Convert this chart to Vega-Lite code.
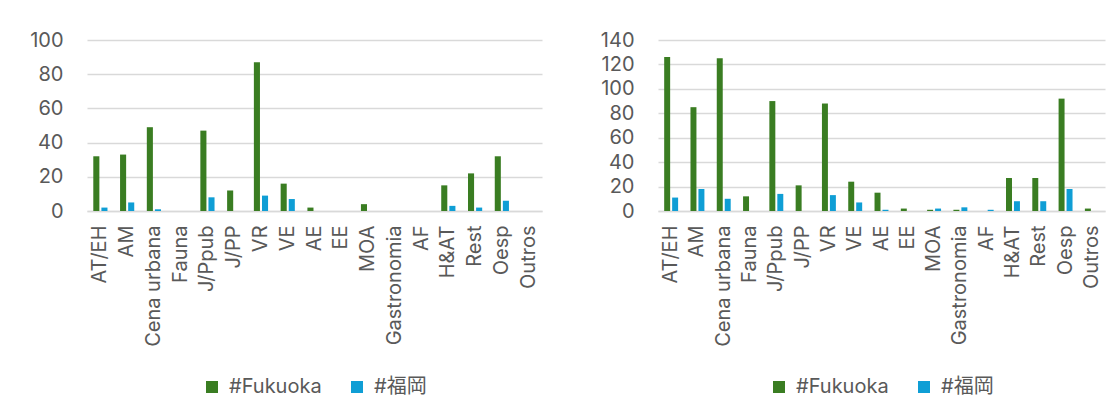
{
  "$schema": "https://vega.github.io/schema/vega-lite/v6.json",
  "padding": {"left": 29, "top": 30, "right": 5, "bottom": 5},
  "background": "#ffffff",
  "spacing": 58,
  "config": {
    "font": "Inter, 'Noto Sans CJK JP'",
    "view": {"stroke": null},
    "axis": {
      "labelFont": "Inter, 'Noto Sans CJK JP'",
      "labelColor": "#595959",
      "labelFontSize": 20,
      "gridColor": "#D9D9D9",
      "gridWidth": 1.3,
      "domainColor": "#D9D9D9",
      "domainWidth": 1.3,
      "ticks": false,
      "title": null
    },
    "legend": {
      "labelFont": "Inter, 'Noto Sans CJK JP'",
      "labelColor": "#595959",
      "labelFontSize": 20,
      "symbolType": "square",
      "symbolSize": 144,
      "symbolStrokeWidth": 0,
      "columnPadding": 25,
      "labelOffset": 7,
      "offset": 30,
      "layout": {"bottom": {"anchor": "middle"}}
    }
  },
  "datasets": {
    "left": [
      {"cat": "AT/EH", "series": "#Fukuoka", "value": 32},
      {"cat": "AT/EH", "series": "#福岡", "value": 2},
      {"cat": "AM", "series": "#Fukuoka", "value": 33},
      {"cat": "AM", "series": "#福岡", "value": 5},
      {"cat": "Cena urbana", "series": "#Fukuoka", "value": 49},
      {"cat": "Cena urbana", "series": "#福岡", "value": 1},
      {"cat": "Fauna", "series": "#Fukuoka", "value": 0},
      {"cat": "Fauna", "series": "#福岡", "value": 0},
      {"cat": "J/Ppub", "series": "#Fukuoka", "value": 47},
      {"cat": "J/Ppub", "series": "#福岡", "value": 8},
      {"cat": "J/PP", "series": "#Fukuoka", "value": 12},
      {"cat": "J/PP", "series": "#福岡", "value": 0},
      {"cat": "VR", "series": "#Fukuoka", "value": 87},
      {"cat": "VR", "series": "#福岡", "value": 9},
      {"cat": "VE", "series": "#Fukuoka", "value": 16},
      {"cat": "VE", "series": "#福岡", "value": 7},
      {"cat": "AE", "series": "#Fukuoka", "value": 2},
      {"cat": "AE", "series": "#福岡", "value": 0},
      {"cat": "EE", "series": "#Fukuoka", "value": 0},
      {"cat": "EE", "series": "#福岡", "value": 0},
      {"cat": "MOA", "series": "#Fukuoka", "value": 4},
      {"cat": "MOA", "series": "#福岡", "value": 0},
      {"cat": "Gastronomia", "series": "#Fukuoka", "value": 0},
      {"cat": "Gastronomia", "series": "#福岡", "value": 0},
      {"cat": "AF", "series": "#Fukuoka", "value": 0},
      {"cat": "AF", "series": "#福岡", "value": 0},
      {"cat": "H&AT", "series": "#Fukuoka", "value": 15},
      {"cat": "H&AT", "series": "#福岡", "value": 3},
      {"cat": "Rest", "series": "#Fukuoka", "value": 22},
      {"cat": "Rest", "series": "#福岡", "value": 2},
      {"cat": "Oesp", "series": "#Fukuoka", "value": 32},
      {"cat": "Oesp", "series": "#福岡", "value": 6},
      {"cat": "Outros", "series": "#Fukuoka", "value": 0},
      {"cat": "Outros", "series": "#福岡", "value": 0}
    ],
    "right": [
      {"cat": "AT/EH", "series": "#Fukuoka", "value": 126},
      {"cat": "AT/EH", "series": "#福岡", "value": 11},
      {"cat": "AM", "series": "#Fukuoka", "value": 85},
      {"cat": "AM", "series": "#福岡", "value": 18},
      {"cat": "Cena urbana", "series": "#Fukuoka", "value": 125},
      {"cat": "Cena urbana", "series": "#福岡", "value": 10},
      {"cat": "Fauna", "series": "#Fukuoka", "value": 12},
      {"cat": "Fauna", "series": "#福岡", "value": 0},
      {"cat": "J/Ppub", "series": "#Fukuoka", "value": 90},
      {"cat": "J/Ppub", "series": "#福岡", "value": 14},
      {"cat": "J/PP", "series": "#Fukuoka", "value": 21},
      {"cat": "J/PP", "series": "#福岡", "value": 0},
      {"cat": "VR", "series": "#Fukuoka", "value": 88},
      {"cat": "VR", "series": "#福岡", "value": 13},
      {"cat": "VE", "series": "#Fukuoka", "value": 24},
      {"cat": "VE", "series": "#福岡", "value": 7},
      {"cat": "AE", "series": "#Fukuoka", "value": 15},
      {"cat": "AE", "series": "#福岡", "value": 1},
      {"cat": "EE", "series": "#Fukuoka", "value": 2},
      {"cat": "EE", "series": "#福岡", "value": 0},
      {"cat": "MOA", "series": "#Fukuoka", "value": 1},
      {"cat": "MOA", "series": "#福岡", "value": 2},
      {"cat": "Gastronomia", "series": "#Fukuoka", "value": 1},
      {"cat": "Gastronomia", "series": "#福岡", "value": 3},
      {"cat": "AF", "series": "#Fukuoka", "value": 0},
      {"cat": "AF", "series": "#福岡", "value": 1},
      {"cat": "H&AT", "series": "#Fukuoka", "value": 27},
      {"cat": "H&AT", "series": "#福岡", "value": 8},
      {"cat": "Rest", "series": "#Fukuoka", "value": 27},
      {"cat": "Rest", "series": "#福岡", "value": 8},
      {"cat": "Oesp", "series": "#Fukuoka", "value": 92},
      {"cat": "Oesp", "series": "#福岡", "value": 18},
      {"cat": "Outros", "series": "#Fukuoka", "value": 2},
      {"cat": "Outros", "series": "#福岡", "value": 0}
    ]
  },
  "resolve": {
    "scale": {"color": "independent", "y": "independent", "x": "independent", "xOffset": "independent"},
    "legend": {"color": "independent"}
  },
  "hconcat": [
    {
      "width": 455,
      "height": 171,
      "data": {"name": "left"},
      "mark": {"type": "bar"},
      "encoding": {
        "x": {
          "field": "cat", "type": "nominal",
          "sort": ["AT/EH","AM","Cena urbana","Fauna","J/Ppub","J/PP","VR","VE","AE","EE","MOA","Gastronomia","AF","H&AT","Rest","Oesp","Outros"],
          "scale": {"paddingInner": 0.47, "paddingOuter": 0.235},
          "axis": {"labelAngle": -90, "labelPadding": 14, "grid": false}
        },
        "xOffset": {"field": "series", "type": "nominal", "sort": ["#Fukuoka", "#福岡"], "scale": {"paddingInner": 0.25}},
        "y": {
          "field": "value", "type": "quantitative",
          "scale": {"domain": [0, 100]},
          "axis": {"values": [0, 20, 40, 60, 80, 100], "domain": false, "labelPadding": 24}
        },
        "color": {
          "field": "series", "type": "nominal",
          "scale": {"domain": ["#Fukuoka", "#福岡"], "range": ["#3A7D22", "#0F9ED5"]},
          "legend": {"orient": "bottom", "title": null}
        }
      }
    },
    {
      "width": 447,
      "height": 171,
      "data": {"name": "right"},
      "mark": {"type": "bar"},
      "encoding": {
        "x": {
          "field": "cat", "type": "nominal",
          "sort": ["AT/EH","AM","Cena urbana","Fauna","J/Ppub","J/PP","VR","VE","AE","EE","MOA","Gastronomia","AF","H&AT","Rest","Oesp","Outros"],
          "scale": {"paddingInner": 0.47, "paddingOuter": 0.235},
          "axis": {"labelAngle": -90, "labelPadding": 14, "grid": false}
        },
        "xOffset": {"field": "series", "type": "nominal", "sort": ["#Fukuoka", "#福岡"], "scale": {"paddingInner": 0.25}},
        "y": {
          "field": "value", "type": "quantitative",
          "scale": {"domain": [0, 140]},
          "axis": {"values": [0, 20, 40, 60, 80, 100, 120, 140], "domain": false, "labelPadding": 24}
        },
        "color": {
          "field": "series", "type": "nominal",
          "scale": {"domain": ["#Fukuoka", "#福岡"], "range": ["#3A7D22", "#0F9ED5"]},
          "legend": {"orient": "bottom", "title": null}
        }
      }
    }
  ]
}
